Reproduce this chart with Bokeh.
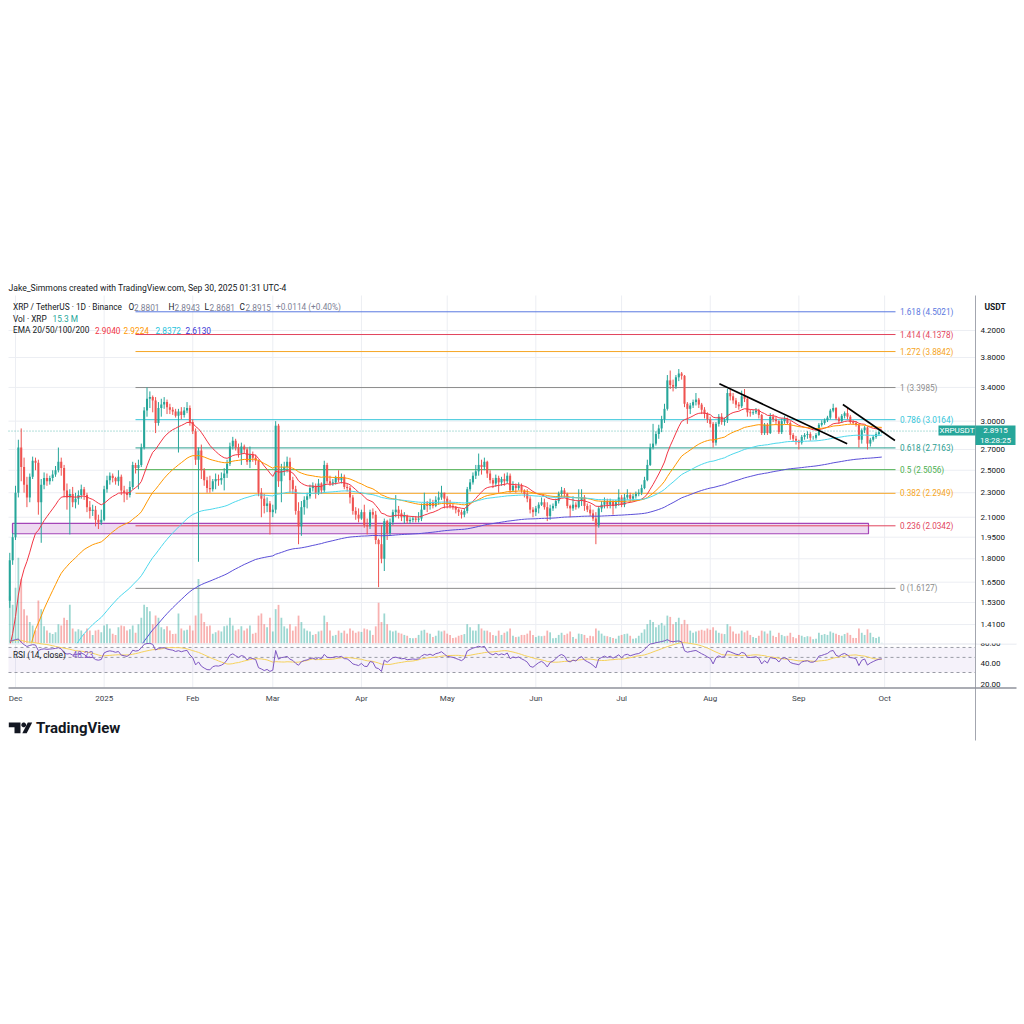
import numpy as np
import pandas as pd
from bokeh.plotting import figure
from bokeh.models import Range1d, LinearScale, LogScale, ColumnDataSource
from bokeh.embed import file_html
from bokeh.resources import INLINE
from bokeh.core.properties import value

# ---------------- data (XRP/USDT daily, 2024-11-29 .. 2025-09-30) ----------------
first_open = 1.54
close = [
    1.79, 1.95,
    2.30, 2.72, 2.53, 2.37, 2.26, 2.44, 2.59, 2.57, 2.22, 2.37, 2.43, 2.40, 2.43, 2.46, 2.50, 2.58,
    2.52, 2.32, 2.26, 2.29, 2.22, 2.25, 2.28, 2.33, 2.28, 2.18, 2.15, 2.16, 2.08, 2.06, 2.08,
    2.33, 2.41, 2.45, 2.43, 2.40, 2.44, 2.32, 2.30, 2.28, 2.35, 2.55, 2.52, 2.55, 2.72, 3.12, 3.26,
    3.28, 3.24, 2.98, 3.15, 3.19, 3.22, 3.16, 3.13, 3.11, 3.06, 3.11, 3.07, 3.12, 3.15, 2.99,
    2.89, 2.60, 2.69, 2.50, 2.41, 2.34, 2.33, 2.40, 2.42, 2.41, 2.43, 2.47, 2.56, 2.73, 2.79, 2.72,
    2.66, 2.73, 2.70, 2.58, 2.65, 2.62, 2.59, 2.30, 2.25, 2.19, 2.21, 2.14,
    2.16, 2.95, 2.40, 2.50, 2.53, 2.58, 2.41, 2.33, 2.15, 2.03, 2.18, 2.24, 2.27, 2.34, 2.36, 2.30,
    2.38, 2.32, 2.55, 2.40, 2.38, 2.39, 2.43, 2.41, 2.44, 2.35, 2.34, 2.26, 2.15, 2.12, 2.09,
    2.14, 2.04, 2.03, 2.14, 2.12, 1.93, 1.90, 1.80, 2.07, 1.98, 2.06, 2.14, 2.16, 2.13, 2.10, 2.11,
    2.07, 2.08, 2.09, 2.08, 2.09, 2.16, 2.21, 2.19, 2.22, 2.19, 2.24, 2.26, 2.30, 2.25,
    2.20, 2.19, 2.18, 2.16, 2.14, 2.12, 2.15, 2.33, 2.39, 2.45, 2.49, 2.55, 2.53, 2.58, 2.47, 2.41,
    2.38, 2.43, 2.39, 2.42, 2.40, 2.45, 2.32, 2.36, 2.34, 2.36, 2.32, 2.29, 2.25, 2.16, 2.14,
    2.17, 2.20, 2.22, 2.18, 2.11, 2.17, 2.19, 2.23, 2.29, 2.32, 2.29, 2.19, 2.17, 2.20, 2.18, 2.23,
    2.26, 2.19, 2.16, 2.13, 2.09, 2.04, 2.17, 2.20, 2.23, 2.20, 2.23, 2.19, 2.22, 2.26,
    2.20, 2.26, 2.28, 2.25, 2.27, 2.29, 2.30, 2.34, 2.41, 2.55, 2.72, 2.76, 2.86, 2.92, 3.02, 3.14,
    3.49, 3.43, 3.41, 3.53, 3.58, 3.55, 3.20, 3.14, 3.18, 3.22, 3.25, 3.19, 3.13, 3.08, 3.02,
    2.97, 2.77, 2.97, 3.05, 2.99, 3.01, 3.33, 3.29, 3.24, 3.19, 3.17, 3.29, 3.26, 3.10, 3.09, 3.10,
    3.12, 3.07, 2.87, 2.96, 2.87, 3.05, 3.02, 3.00, 2.88, 3.00, 3.02, 2.98, 2.85, 2.81, 2.79,
    2.77, 2.83, 2.85, 2.86, 2.82, 2.82, 2.85, 2.96, 2.98, 3.01, 3.04, 3.12, 3.15, 3.03, 3.00, 3.06,
    3.09, 3.05, 2.99, 2.98, 2.96, 2.80, 2.90, 2.93, 2.76, 2.80, 2.83, 2.86, 2.8801, 2.8915,
]
high = [
    1.84, 1.98,
    2.36, 2.80, 2.92, 2.62, 2.44, 2.47, 2.63, 2.62, 2.60, 2.42, 2.48, 2.47, 2.45, 2.50, 2.54, 2.72,
    2.62, 2.55, 2.38, 2.33, 2.35, 2.30, 2.32, 2.37, 2.35, 2.30, 2.23, 2.20, 2.19, 2.12, 2.16,
    2.36, 2.45, 2.48, 2.47, 2.44, 2.50, 2.46, 2.36, 2.33, 2.40, 2.58, 2.57, 2.60, 2.76, 3.16, 3.40,
    3.35, 3.30, 3.28, 3.22, 3.26, 3.28, 3.25, 3.20, 3.16, 3.14, 3.14, 3.16, 3.16, 3.22, 3.18,
    3.02, 2.92, 2.72, 2.75, 2.52, 2.44, 2.45, 2.42, 2.47, 2.46, 2.48, 2.52, 2.60, 2.77, 2.83, 2.81,
    2.76, 2.77, 2.75, 2.72, 2.73, 2.68, 2.65, 2.60, 2.34, 2.29, 2.26, 2.23,
    2.20, 3.00, 2.97, 2.56, 2.58, 2.63, 2.62, 2.44, 2.36, 2.22, 2.23, 2.27, 2.30, 2.37, 2.39, 2.38,
    2.42, 2.39, 2.59, 2.57, 2.45, 2.42, 2.45, 2.50, 2.47, 2.46, 2.38, 2.36, 2.28, 2.18, 2.17,
    2.16, 2.20, 2.09, 2.16, 2.17, 2.15, 1.94, 2.04, 2.09, 2.08, 2.09, 2.16, 2.28, 2.19, 2.16, 2.14,
    2.12, 2.10, 2.11, 2.11, 2.14, 2.21, 2.30, 2.23, 2.25, 2.24, 2.27, 2.31, 2.36, 2.29,
    2.27, 2.24, 2.21, 2.19, 2.17, 2.16, 2.17, 2.35, 2.42, 2.48, 2.55, 2.66, 2.60, 2.62, 2.59, 2.50,
    2.43, 2.46, 2.45, 2.44, 2.47, 2.48, 2.47, 2.40, 2.38, 2.39, 2.38, 2.33, 2.33, 2.27, 2.18,
    2.19, 2.22, 2.26, 2.25, 2.22, 2.20, 2.21, 2.25, 2.31, 2.35, 2.34, 2.30, 2.20, 2.27, 2.22, 2.33,
    2.33, 2.28, 2.21, 2.20, 2.16, 2.14, 2.19, 2.23, 2.26, 2.25, 2.25, 2.24, 2.24, 2.33,
    2.28, 2.29, 2.33, 2.30, 2.29, 2.31, 2.33, 2.37, 2.44, 2.60, 2.76, 2.97, 2.89, 2.96, 3.06, 3.20,
    3.56, 3.62, 3.50, 3.56, 3.64, 3.60, 3.56, 3.22, 3.21, 3.25, 3.33, 3.27, 3.21, 3.16, 3.10,
    3.05, 2.99, 2.99, 3.08, 3.09, 3.04, 3.38, 3.37, 3.33, 3.27, 3.22, 3.36, 3.38, 3.28, 3.13, 3.13,
    3.15, 3.14, 3.08, 2.98, 2.98, 3.09, 3.08, 3.05, 3.01, 3.03, 3.06, 3.04, 3.00, 2.87, 2.84,
    2.80, 2.85, 2.87, 2.89, 2.88, 2.84, 2.87, 2.98, 3.01, 3.03, 3.06, 3.14, 3.20, 3.16, 3.05, 3.08,
    3.11, 3.16, 3.07, 3.01, 3.00, 2.97, 2.92, 2.95, 2.94, 2.82, 2.85, 2.88, 2.90, 2.8943,
]
low = [
    1.50, 1.76,
    1.93, 2.26, 2.40, 2.30, 2.18, 2.22, 2.42, 2.50, 2.12, 1.91, 2.33, 2.36, 2.37, 2.40, 2.44, 2.48,
    2.45, 2.26, 2.16, 1.97, 2.18, 2.17, 2.20, 2.25, 2.24, 2.14, 2.09, 2.11, 2.03, 2.01, 2.04,
    2.07, 2.30, 2.37, 2.39, 2.37, 2.36, 2.28, 2.22, 2.24, 2.26, 2.33, 2.47, 2.33, 2.53, 2.70, 3.05,
    3.15, 3.10, 2.87, 2.95, 3.05, 3.14, 3.08, 3.08, 3.07, 3.04, 2.67, 3.02, 3.04, 3.09, 2.95,
    2.86, 2.55, 1.78, 2.42, 2.36, 2.30, 2.30, 2.31, 2.33, 2.36, 2.37, 2.32, 2.43, 2.54, 2.70, 2.69,
    2.62, 2.55, 2.66, 2.55, 2.52, 2.58, 2.55, 2.27, 2.10, 2.13, 2.14, 1.97,
    2.10, 2.13, 2.35, 2.22, 2.45, 2.48, 2.30, 2.29, 2.12, 1.90, 1.96, 2.12, 2.17, 2.25, 2.31, 2.25,
    2.28, 2.29, 2.30, 2.38, 2.36, 2.36, 2.37, 2.39, 2.38, 2.33, 2.31, 2.21, 2.12, 2.08, 2.06,
    2.08, 2.02, 1.97, 2.01, 2.09, 1.90, 1.62, 1.77, 1.72, 1.93, 1.96, 2.04, 2.10, 2.09, 2.07, 2.05,
    2.05, 2.05, 2.06, 2.06, 2.06, 2.07, 2.16, 2.14, 2.16, 2.17, 2.18, 2.20, 2.24, 2.17,
    2.17, 2.17, 2.16, 2.13, 2.11, 2.09, 2.10, 2.13, 2.31, 2.37, 2.42, 2.45, 2.46, 2.50, 2.43, 2.38,
    2.34, 2.35, 2.30, 2.36, 2.36, 2.38, 2.30, 2.31, 2.30, 2.32, 2.30, 2.26, 2.22, 2.13, 2.10,
    2.11, 2.13, 2.19, 2.16, 2.07, 2.08, 2.15, 2.17, 2.21, 2.26, 2.26, 2.17, 2.10, 2.15, 2.16, 2.17,
    2.19, 2.15, 2.14, 2.11, 2.07, 1.90, 2.02, 2.14, 2.17, 2.17, 2.17, 2.12, 2.17, 2.19,
    2.18, 2.18, 2.24, 2.22, 2.23, 2.25, 2.27, 2.28, 2.33, 2.40, 2.54, 2.70, 2.74, 2.81, 2.88, 2.98,
    3.12, 3.38, 3.35, 3.38, 3.48, 3.50, 3.16, 2.97, 3.08, 3.15, 3.18, 3.15, 3.08, 3.03, 2.98,
    2.93, 2.72, 2.74, 2.94, 2.96, 2.95, 2.98, 3.24, 3.20, 3.15, 3.13, 3.15, 3.22, 3.05, 3.05, 3.07,
    3.08, 3.03, 2.85, 2.85, 2.85, 2.86, 2.99, 2.96, 2.86, 2.86, 2.97, 2.96, 2.80, 2.78, 2.75,
    2.70, 2.75, 2.80, 2.81, 2.79, 2.80, 2.80, 2.84, 2.94, 2.96, 2.99, 3.02, 3.10, 3.01, 2.97, 2.98,
    3.03, 3.02, 2.97, 2.96, 2.94, 2.72, 2.76, 2.87, 2.70, 2.73, 2.78, 2.81, 2.84, 2.8681,
]
volume_m = [
    1100, 900,
    1300, 2000, 1500, 800, 650, 500, 420, 300, 1000, 800, 400, 300, 250, 220, 260, 450,
    420, 600, 550, 900, 350, 280, 330, 300, 220, 350, 300, 200, 300, 320, 260,
    420, 450, 350, 230, 200, 380, 420, 400, 300, 330, 420, 250, 450, 600, 900, 850,
    750, 450, 650, 600, 380, 330, 400, 300, 220, 230, 700, 350, 300, 320, 420,
    300, 650, 1500, 700, 500, 400, 420, 230, 260, 300, 280, 400, 420, 600, 420, 300,
    330, 400, 300, 350, 420, 230, 250, 650, 700, 450, 380, 600,
    280, 800, 900, 600, 400, 350, 450, 300, 400, 650, 500, 350, 300, 280, 200, 220,
    280, 300, 650, 500, 300, 180, 200, 300, 250, 300, 230, 350, 300, 250, 280,
    270, 350, 330, 300, 200, 400, 950, 500, 700, 450, 300, 280, 300, 250, 230, 200,
    180, 130, 120, 130, 200, 300, 320, 250, 230, 150, 180, 300, 280, 300,
    230, 200, 130, 140, 180, 200, 220, 450, 380, 300, 300, 450, 350, 300, 300, 260,
    200, 180, 300, 200, 250, 280, 350, 180, 150, 160, 200, 200, 230, 300, 200,
    150, 180, 170, 180, 300, 260, 120, 130, 200, 250, 200, 230, 280, 150, 110, 230,
    220, 200, 130, 180, 170, 350, 300, 230, 180, 170, 150, 130, 110, 180,
    200, 220, 230, 180, 110, 120, 180, 250, 330, 450, 550, 500, 380, 430, 480, 420,
    650, 620, 450, 500, 600, 450, 550, 450, 300, 250, 280, 300, 320, 300, 350,
    320, 380, 300, 250, 230, 220, 450, 400, 280, 230, 230, 300, 260, 300, 200, 150,
    130, 180, 300, 280, 230, 300, 180, 150, 250, 200, 170, 180, 250, 150, 120,
    200, 180, 150, 170, 160, 100, 110, 250, 200, 220, 200, 280, 250, 230, 200, 180,
    220, 250, 200, 130, 130, 350, 250, 200, 330, 250, 150, 130, 160, 15.3,
]
assert len(close) == len(high) == len(low) == len(volume_m) == 306

month_ticks = [0, 31, 62, 90, 121, 151, 182, 212, 243, 274, 304]   # days since 2024-12-01
month_labels = ["Dec", "2025", "Feb", "Mar", "Apr", "May", "Jun", "Jul", "Aug", "Sep", "Oct"]
price_ticks = [1.41, 1.53, 1.65, 1.80, 1.95, 2.10, 2.30, 2.50, 2.70, 3.00, 3.40, 3.80, 4.20]
rsi_ticks = [20, 40, 80]
rsi_levels = [70, 50, 30]

fib_ratios = ["1.618", "1.414", "1.272", "1", "0.786", "0.618", "0.5", "0.382", "0.236", "0"]
fib_prices = [4.5021, 4.1378, 3.8842, 3.3985, 3.0164, 2.7163, 2.5056, 2.2949, 2.0342, 1.6127]
fib_colors = ["#5a78e0", "#e2455d", "#f5a524", "#8c8c8c", "#35c6da", "#2a9d8f",
              "#4caf50", "#f5a524", "#e2455d", "#8c8c8c"]

ema_periods = [20, 50, 100, 200]
ema_seeds = [1.25, 0.90, 0.65, 0.68]
ema_colors = ["#f23645", "#ff9800", "#4dd8ec", "#5b4fd8"]
rsi_seed_gain, rsi_seed_loss = 0.06, 0.012

last_price = 2.8915
zone_low, zone_high = 1.975, 2.052
trend_x0 = [246.2, 289.4]
trend_y0 = [3.446, 3.191]
trend_x1 = [290.9, 307.6]
trend_y1 = [2.758, 2.792]

# ---------------- derived ----------------
c = np.array(close, float)
h = np.array(high, float)
l = np.array(low, float)
o = np.r_[first_open, c[:-1]]
h = np.maximum(h, np.maximum(o, c))
l = np.minimum(l, np.minimum(o, c))
n = len(c)
day = np.arange(n) - 2.0
up = c >= o
UP, DN = "#26a69a", "#ef5350"
cols = [UP if u else DN for u in up]


def ema(vals, period, seed):
    a = 2.0 / (period + 1)
    e, out = seed, []
    for v in vals:
        e += a * (v - e)
        out.append(e)
    return np.array(out)


emas = [ema(c, pd_, s) for pd_, s in zip(ema_periods, ema_seeds)]

ag, al, prev, rsi = rsi_seed_gain, rsi_seed_loss, first_open, []
for v in c:
    ch = v - prev
    prev = v
    ag = (ag * 13 + max(ch, 0)) / 14
    al = (al * 13 + max(-ch, 0)) / 14
    rsi.append(100 - 100 / (1 + ag / al))
rsi = np.array(rsi)
rsi_ma = pd.Series(rsi).rolling(14, min_periods=1).mean().values

src = ColumnDataSource(dict(x=day, o=o, c=c, h=h, l=l, top=np.maximum(o, c), bot=np.minimum(o, c),
                            col=cols, vol=volume_m))

# ---------------- page calibration (canvas == page) ----------------
X0, XPD = 15.0, 2.859            # page x of 2024-12-01, px per day
YR, PR, YPL = 330.0, 4.2, 269.4  # page y of price 4.2, px per ln unit
RY, RV, RPL = 643.0, 80.0, 29.57 # RSI pane (log)
VPX = 23.3                       # million XRP per px of volume


def dx(px):
    return (px - X0) / XPD


def py(pyy):
    return PR * np.exp(-(pyy - YR) / YPL)


def ry(pyy):
    return RV * np.exp(-(pyy - RY) / RPL)


FONT = "Roboto"
DARK = "#131722"
GRAYV = "#7d8195"
CW, CH = 1020, 760
LEFT, AXIS_X = 8, 975

p = figure(width=CW, height=CH, x_range=Range1d(dx(0), dx(CW)), y_range=Range1d(py(CH), py(0)),
           y_axis_type="log", x_axis_location=None, y_axis_location=None, title=None,
           output_backend="svg", toolbar_location=None, min_border=0,
           outline_line_color=None, background_fill_color="white", border_fill_color="white")
p.y_scale = LogScale()
p.grid.visible = False
p.extra_y_ranges = {"vol": Range1d(-(CH - RY) * VPX, RY * VPX),
                    "rsi": Range1d(ry(CH), ry(0))}
p.extra_y_scales = {"vol": LinearScale(), "rsi": LogScale()}

GRID = "#eceef3"
# grid lines
p.segment(x0=month_ticks, x1=month_ticks, y0=py(295), y1=py(687), line_color=GRID, line_width=1)
p.segment(x0=dx(LEFT), x1=dx(AXIS_X), y0=price_ticks, y1=price_ticks, line_color=GRID, line_width=1)

# volume
p.vbar(x="x", width=0.62, top="vol", bottom=0, fill_color="col", fill_alpha=0.45, line_color=None,
       y_range_name="vol", source=src)

# support zone
p.quad(left=dx(12), right=dx(868), bottom=zone_low, top=zone_high,
       fill_color="#ce93d8", fill_alpha=0.35, line_color="#a445b8", line_width=1.2)

# fib levels
fib_src = ColumnDataSource(dict(x0=[dx(135)] * len(fib_prices), x1=[dx(895)] * len(fib_prices),
                                y=fib_prices, col=fib_colors,
                                lx=[dx(899.5)] * len(fib_prices),
                                txt=[f"{r} ({v:.4f})" for r, v in zip(fib_ratios, fib_prices)]))
p.segment(x0="x0", y0="y", x1="x1", y1="y", line_color="col", line_width=1, source=fib_src)

# current price line
p.segment(x0=dx(LEFT), x1=dx(AXIS_X), y0=last_price, y1=last_price, line_color="#26a69a",
          line_alpha=0.7, line_dash="1 2", line_width=1)

# candles
p.segment(x0="x", y0="l", x1="x", y1="h", line_color="col", line_width=1, source=src)
p.vbar(x="x", width=0.72, top="top", bottom="bot", fill_color="col", line_color=None, source=src)

# EMAs
for e, col in zip(emas, ema_colors):
    p.line(day, e, line_color=col, line_width=1)

# trend lines
p.segment(x0=trend_x0, y0=trend_y0, x1=trend_x1, y1=trend_y1, line_color="#000000", line_width=1.6)

# fib labels
p.text(x="lx", y="y", text="txt", text_color="col", text_font=value(FONT), text_font_size="8.2px",
       text_baseline="middle", text_align="left", source=fib_src)

# ---- cover everything below the price pane, then RSI pane ----
p.quad(left=dx(0), right=dx(CW), bottom=py(CH), top=py(RY), fill_color="white", line_color=None)
p.segment(x0=month_ticks, x1=month_ticks, y0=py(RY), y1=py(687), line_color=GRID, line_width=1)
p.quad(left=dx(LEFT), right=dx(AXIS_X), bottom=30, top=70, fill_color="#7e57c2", fill_alpha=0.08,
       line_color=None, y_range_name="rsi")
p.segment(x0=dx(LEFT), x1=dx(AXIS_X), y0=rsi_levels, y1=rsi_levels, line_color="#9a9ca6",
          line_dash="3 3", line_width=1, y_range_name="rsi")
p.segment(x0=dx(LEFT), x1=dx(1016), y0=py(643.5), y1=py(643.5), line_color="#e0e3eb", line_width=1)
p.line(day, rsi_ma, line_color="#f6d25c", line_width=1, y_range_name="rsi")
p.line(day, rsi, line_color="#7e57c2", line_width=1, y_range_name="rsi")

# ---- axes (lines + tick labels) ----
p.segment(x0=dx(AXIS_X), x1=dx(AXIS_X), y0=py(295), y1=py(740), line_color="#a3a6af", line_width=1)
p.segment(x0=dx(LEFT), x1=dx(1016), y0=py(687.5), y1=py(687.5), line_color="#8f929b", line_width=1.5)
p.text(x=[dx(980)] * len(price_ticks), y=price_ticks, text=[f"{t:.4f}" for t in price_ticks],
       text_color=DARK, text_font=value(FONT), text_font_size="8px", text_baseline="middle")
p.text(x=[dx(980)] * len(rsi_ticks), y=rsi_ticks, text=[f"{t:.2f}" for t in rsi_ticks],
       text_color=DARK, text_font=value(FONT), text_font_size="8px", text_baseline="middle",
       y_range_name="rsi")
# the 80.00 tag is half hidden under the price pane
p.quad(left=dx(976), right=dx(1016), bottom=py(643), top=py(633), fill_color="white", line_color=None)
p.text(x=month_ticks, y=[py(697.5)] * len(month_ticks), text=month_labels, text_color="#3b3f4a",
       text_font=value(FONT), text_font_size="8px", text_baseline="middle", text_align="center")

# price tags
p.quad(left=dx(938), right=dx(AXIS_X), bottom=py(435), top=py(425), fill_color="#26a69a", line_color=None)
p.quad(left=dx(AXIS_X), right=dx(1015), bottom=py(444.5), top=py(425), fill_color="#26a69a", line_color=None)


def txt(px, pyy, s, color=DARK, size="8.3px", bold=False, align="left"):
    p.text(x=[dx(px)], y=[py(pyy)], text=[s], text_color=color, text_font=value(FONT),
           text_font_size=size, text_font_style="bold" if bold else "normal",
           text_baseline="middle", text_align=align)


txt(956.5, 430, "XRPUSDT", "white", size="8px", align="center")
txt(995, 430, "2.8915", "white", size="8px", align="center")
txt(995, 439.5, "18:28:25", "white", size="8px", align="center")
txt(984, 306, "USDT", bold=True, size="8.5px")

# header
txt(8, 287.5, "Jake_Simmons created with TradingView.com, Sep 30, 2025 01:31 UTC-4", size="8.6px")
txt(12.5, 306.5, "XRP / TetherUS · 1D · Binance")
for px_, t, col in [(128, "O", DARK), (133.5, "2.8801", GRAYV), (168, "H", DARK), (174, "2.8943", GRAYV),
                    (204, "L", DARK), (209, "2.8681", GRAYV), (239, "C", DARK), (245, "2.8915", GRAYV),
                    (275.5, "+0.0114 (+0.40%)", GRAYV)]:
    txt(px_, 306.5, t, col)
txt(12.5, 318, "Vol · XRP")
txt(52, 318, "15.3 M", "#26a69a")
txt(12.5, 329.5, "EMA 20/50/100/200")
for px_, t, col in [(94.5, "2.9040", "#f23645"), (123, "2.9224", "#ff9800"), (155, "2.8372", "#1fc3dc"),
                    (185, "2.6130", "#3b35d4")]:
    txt(px_, 329.5, t, col)

txt(12.5, 654, "RSI (14, close)")
txt(72, 654, "48.23", "#7e57c2")

# TradingView logo
p.patch(x=[dx(8.3), dx(20), dx(20), dx(14), dx(14), dx(8.3)],
        y=[py(722), py(722), py(732.7), py(732.7), py(726.7), py(726.7)], fill_color=DARK, line_color=None)
ang = np.linspace(0, 2 * np.pi, 20, endpoint=False)
p.patch(x=dx(23.2 + 2.4 * np.cos(ang)), y=py(724.4 + 2.4 * np.sin(ang)), fill_color=DARK, line_color=None)
p.patch(x=[dx(21.8), dx(26.2), dx(31.7), dx(27.3)], y=[py(732.7), py(732.7), py(722), py(722)],
        fill_color=DARK, line_color=None)
txt(35.5, 727.5, "TradingView", size="15px", bold=True)

open("out.html", "w").write(file_html(p, INLINE, "XRPUSDT"))
